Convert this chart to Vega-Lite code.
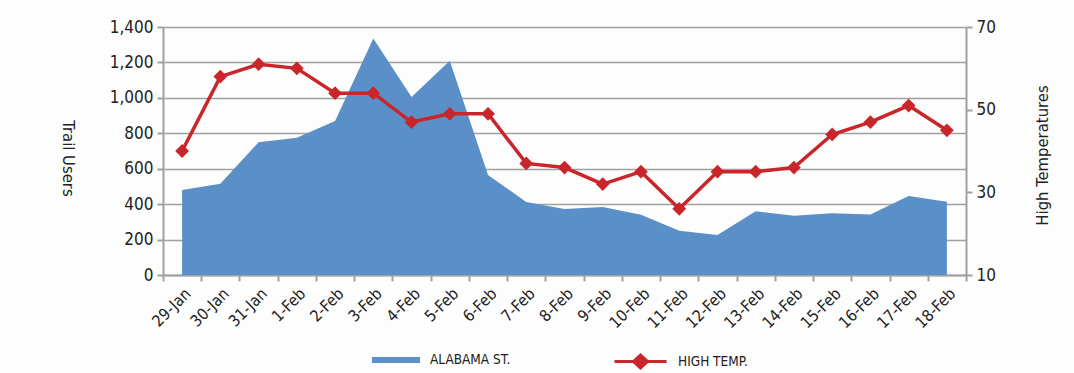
{
  "$schema": "https://vega.github.io/schema/vega-lite/v6.json",
  "width": 803,
  "height": 248,
  "autosize": {"type": "none"},
  "padding": {"left": 163, "top": 27, "right": 108, "bottom": 98},
  "background": "#fdfdfd",
  "config": {
    "font": "DejaVu Sans Condensed",
    "view": {"stroke": null},
    "axis": {
      "labelFont": "DejaVu Sans Condensed",
      "titleFont": "DejaVu Sans Condensed",
      "labelColor": "#222222",
      "titleColor": "#222222",
      "titleFontWeight": "normal",
      "domainColor": "#a0a0a0",
      "domainWidth": 2,
      "tickColor": "#a0a0a0",
      "tickWidth": 2,
      "tickSize": 6,
      "gridColor": "#a0a0a0",
      "gridWidth": 1.5
    },
    "legend": {
      "labelFont": "DejaVu Sans Condensed",
      "labelFontSize": 13.5,
      "labelColor": "#222222",
      "padding": 0,
      "labelOffset": 10
    }
  },
  "data": {
    "values": [
      {"date": "29-Jan", "users": 480, "temp": 40},
      {"date": "30-Jan", "users": 515, "temp": 58},
      {"date": "31-Jan", "users": 750, "temp": 61},
      {"date": "1-Feb", "users": 775, "temp": 60},
      {"date": "2-Feb", "users": 870, "temp": 54},
      {"date": "3-Feb", "users": 1335, "temp": 54},
      {"date": "4-Feb", "users": 1005, "temp": 47},
      {"date": "5-Feb", "users": 1210, "temp": 49},
      {"date": "6-Feb", "users": 565, "temp": 49},
      {"date": "7-Feb", "users": 412, "temp": 37},
      {"date": "8-Feb", "users": 372, "temp": 36},
      {"date": "9-Feb", "users": 384, "temp": 32},
      {"date": "10-Feb", "users": 340, "temp": 35},
      {"date": "11-Feb", "users": 250, "temp": 26},
      {"date": "12-Feb", "users": 226, "temp": 35},
      {"date": "13-Feb", "users": 360, "temp": 35},
      {"date": "14-Feb", "users": 335, "temp": 36},
      {"date": "15-Feb", "users": 348, "temp": 44},
      {"date": "16-Feb", "users": 342, "temp": 47},
      {"date": "17-Feb", "users": 446, "temp": 51},
      {"date": "18-Feb", "users": 414, "temp": 45}
    ]
  },
  "encoding": {
    "x": {
      "field": "date",
      "type": "ordinal",
      "sort": null,
      "bandPosition": 0.5,
      "scale": {"type": "band", "paddingInner": 0, "paddingOuter": 0},
      "axis": {
        "title": null,
        "labelAngle": -45,
        "labelFontSize": 16,
        "labelPadding": 4,
        "tickBand": "extent",
        "grid": false
      }
    }
  },
  "layer": [
    {
      "mark": {"type": "area", "interpolate": "linear"},
      "encoding": {
        "y": {
          "field": "users",
          "type": "quantitative",
          "scale": {"domain": [0, 1400], "nice": false},
          "axis": {
            "title": "Trail Users",
            "titleFontSize": 16.5,
            "titleAngle": 90,
            "titleAlign": "center",
            "titleBaseline": "middle",
            "titleX": -96,
            "titleY": 131,
            "values": [0, 200, 400, 600, 800, 1000, 1200, 1400],
            "format": ",d",
            "labelFontSize": 17,
            "labelPadding": 4,
            "grid": true
          }
        },
        "fill": {
          "datum": "ALABAMA ST.",
          "scale": {"range": ["#5b8fc7"]},
          "legend": {
            "title": null,
            "orient": "none",
            "legendX": 209,
            "legendY": 309,
            "symbolType": "M-1,-0.125H1V0.125H-1Z",
            "symbolSize": 2304,
            "symbolStrokeWidth": 0
          }
        }
      }
    },
    {
      "layer": [
        {
          "mark": {"type": "line", "strokeWidth": 3.5},
          "encoding": {
            "y": {
              "field": "temp",
              "type": "quantitative",
              "scale": {"domain": [10, 70], "nice": false},
              "axis": {
                "orient": "right",
                "title": "High Temperatures",
                "titleFontSize": 16.5,
                "titleAngle": -90,
                "titleAlign": "center",
                "titleBaseline": "middle",
                "titleX": 76,
                "titleY": 128,
                "values": [10, 30, 50, 70],
                "labelFontSize": 17,
                "labelPadding": 4,
                "grid": false
              }
            },
            "stroke": {
              "datum": "HIGH TEMP.",
              "scale": {"range": ["#c8262b"]},
              "legend": {
                "title": null,
                "orient": "none",
                "legendX": 450,
                "legendY": 307,
                "symbolType": "M-1,0H1M-0.27,0L0,-0.25L0.27,0L0,0.25Z",
                "symbolSize": 2704,
                "symbolStrokeWidth": 3,
                "symbolFillColor": "#c8262b",
                "encode": {"symbols": {"update": {"fill": {"value": "#c8262b"}, "stroke": {"value": "#c8262b"}}}}
              }
            }
          }
        },
        {
          "mark": {"type": "point", "shape": "diamond", "filled": true, "size": 190, "color": "#c8262b", "opacity": 1},
          "encoding": {
            "y": {"field": "temp", "type": "quantitative"}
          }
        }
      ]
    }
  ],
  "resolve": {"scale": {"y": "independent"}}
}
